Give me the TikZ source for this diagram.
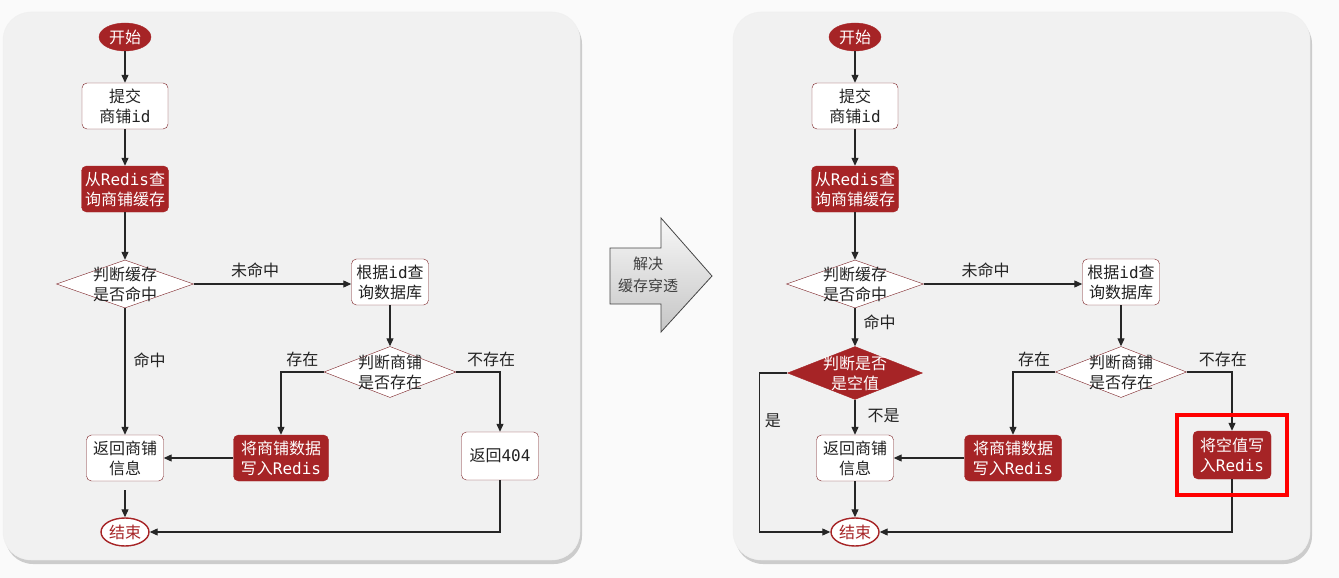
\documentclass[tikz,border=0pt]{standalone}
\usepackage{fontspec}
\setmainfont{Noto Sans CJK SC}
\setmonofont{DejaVu Sans Mono}
\usetikzlibrary{shapes.geometric,arrows.meta,shadows}

\definecolor{flowred}{RGB}{166,36,38}
\definecolor{edgered}{RGB}{122,32,36}
\definecolor{panelgray}{RGB}{241,241,241}
\definecolor{pagegray}{RGB}{250,250,250}
\definecolor{inkgray}{RGB}{34,34,34}

\tikzset{
  box/.style={draw=edgered, fill=white, rounded corners=5pt, align=center, inner sep=2pt,
    minimum width=77pt, minimum height=46pt, text=inkgray},
  redbox/.style={box, fill=flowred, draw=flowred, text=white},
  terminal/.style={ellipse, draw=flowred, fill=flowred, text=white,
    minimum width=52pt, minimum height=28pt, inner sep=0pt},
  endnode/.style={ellipse, draw=flowred, line width=1.4pt, fill=white, text=flowred,
    minimum width=48pt, minimum height=28pt, inner sep=0pt},
  dia/.style={diamond, draw=edgered, fill=white, inner sep=0pt,
    minimum width=137pt, minimum height=48pt},
  diatext/.style={align=center, inner sep=0pt, text=inkgray},
  flow/.style={->, line width=1.1pt, draw=black!85},
  lbl/.style={text=inkgray, inner sep=2pt},
  panel/.style={fill=panelgray, draw=black!6, rounded corners=28pt,
    drop shadow={shadow xshift=2pt, shadow yshift=-4pt, opacity=0.18, fill=black}},
}

\begin{document}
\begin{tikzpicture}[x=1pt, y=-1pt, font=\fontsize{16}{20}\selectfont,
    >={Triangle[length=8pt,width=7pt]}]
  \useasboundingbox (0,0) rectangle (1339,578);
  \fill[pagegray] (0,0) rectangle (1339,578);
  \path[panel] (3,12) rectangle (580,560);
  \path[panel] (733,12) rectangle (1310,560);

  % left: original flow
  \node[terminal] (Lstart) at (125,37) {开始};
  \node[box, minimum width=86pt] (Lsubmit) at (125,106) {提交\\商铺\texttt{id}};
  \node[redbox, minimum width=87pt] (Lquery) at (125,189) {从\texttt{Redis}查\\询商铺缓存};
  \node[dia] (Lhit) at (125,284) {};
  \node[diatext] (Lhittext) at (Lhit) {判断缓存\\是否命中};
  \node[box] (Ldb) at (390,282) {根据\texttt{id}查\\询数据库};
  \node[dia, minimum width=132pt, minimum height=51pt] (Lexist) at (390,372) {};
  \node[diatext] (Lexisttext) at (Lexist) {判断商铺\\是否存在};
  \node[box] (Lret) at (125,458) {返回商铺\\信息};
  \node[redbox, minimum width=95pt] (Lwrite) at (281,458) {将商铺数据\\写入\texttt{Redis}};
  \node[box, minimum height=48pt] (L404) at (500,456) {返回\texttt{404}};
  \node[endnode] (Lend) at (125,532) {结束};
  \coordinate (Lretgap) at (125,490);

  \draw[flow] (Lstart) -- (Lsubmit);
  \draw[flow] (Lsubmit) -- (Lquery);
  \draw[flow] (Lquery) -- (Lhit);
  \draw[flow] (Lhit.east) -- (Lhit.east -| Ldb.west)
    node[lbl, above=4pt, pos=0.39] (Lmiss) {未命中};
  \draw[flow] (Lhit) -- (Lret) node[lbl, right=6pt, pos=0.41] (Lhitlbl) {命中};
  \draw[flow] (Ldb) -- (Lexist);
  \draw[flow] (Lexist.west) -| (Lwrite.north) node[lbl, above=3pt, pos=0.25] (Lyes) {存在};
  \draw[flow] (Lexist.east) -| (L404.north) node[lbl, above=3pt, pos=0.4] (Lno) {不存在};
  \draw[flow] (Lwrite) -- (Lret);
  \draw[flow] (Lretgap) -- (Lend.north);
  \draw[flow] (L404.south) |- (Lend.east);

  % middle arrow
  \path[draw=gray!55!black, top color=gray!6, bottom color=gray!45, line width=0.8pt]
    (610,248) -- (661,248) -- (661,218) -- (712,276) -- (661,332) -- (661,304)
    -- (610,304) -- cycle;
  \node[align=center, font=\fontsize{15}{22}\selectfont, text=black!75] (solve)
    at (648,275) {解决\\缓存穿透};

  % right: flow with null caching
  \begin{scope}[shift={(730,0)}]
    \node[terminal] (Rstart) at (125,37) {开始};
    \node[box, minimum width=86pt] (Rsubmit) at (125,106) {提交\\商铺\texttt{id}};
    \node[redbox, minimum width=87pt] (Rquery) at (125,189) {从\texttt{Redis}查\\询商铺缓存};
    \node[dia] (Rhit) at (125,284) {};
    \node[diatext] (Rhittext) at (Rhit) {判断缓存\\是否命中};
    \node[box] (Rdb) at (391,282) {根据\texttt{id}查\\询数据库};
    \node[dia, minimum width=131pt, minimum height=51pt] (Rexist) at (391,372) {};
    \node[diatext] (Rexisttext) at (Rexist) {判断商铺\\是否存在};
    \node[dia, fill=flowred, draw=flowred, minimum width=135pt, minimum height=53pt]
      (Rnull) at (125,373) {};
    \node[diatext, text=white] (Rnulltext) at (Rnull) {判断是否\\是空值};
    \node[box] (Rret) at (125,458) {返回商铺\\信息};
    \node[redbox, minimum width=97pt] (Rwrite) at (283,458) {将商铺数据\\写入\texttt{Redis}};
    \node[redbox, minimum width=78pt, minimum height=48pt] (Rsetnull) at (502,455)
      {将空值写\\入\texttt{Redis}};
    \node[endnode] (Rend) at (125,532) {结束};

    \draw[flow] (Rstart) -- (Rsubmit);
    \draw[flow] (Rsubmit) -- (Rquery);
    \draw[flow] (Rquery) -- (Rhit);
    \draw[flow] (Rhit.east) -- (Rhit.east -| Rdb.west)
      node[lbl, above=4pt, pos=0.39] (Rmiss) {未命中};
    \draw[flow] (Rhit) -- (Rnull) node[lbl, right=6pt, pos=0.38] (Rhitlbl) {命中};
    \draw[flow] (Rnull) -- (Rret) node[lbl, right=10pt, pos=0.45] (Rnotlbl) {不是};
    \draw[flow] (Rnull.west) -- ++(-28,0) |- (Rend.west)
      node[lbl, right=3pt, pos=0.15] (Ryeslbl) {是};
    \draw[flow] (Rdb) -- (Rexist);
    \draw[flow] (Rexist.west) -| (Rwrite.north) node[lbl, above=3pt, pos=0.25] (Ryes) {存在};
    \draw[flow] (Rexist.east) -| (Rsetnull.north) node[lbl, above=3pt, pos=0.4] (Rno) {不存在};
    \draw[flow] (Rwrite) -- (Rret);
    \draw[flow] (Rret) -- (Rend);
    \draw[flow] (Rsetnull.south) |- (Rend.east);
    \draw[red, line width=3.5pt] (447,415) rectangle (557,495);
  \end{scope}
\end{tikzpicture}
\end{document}
